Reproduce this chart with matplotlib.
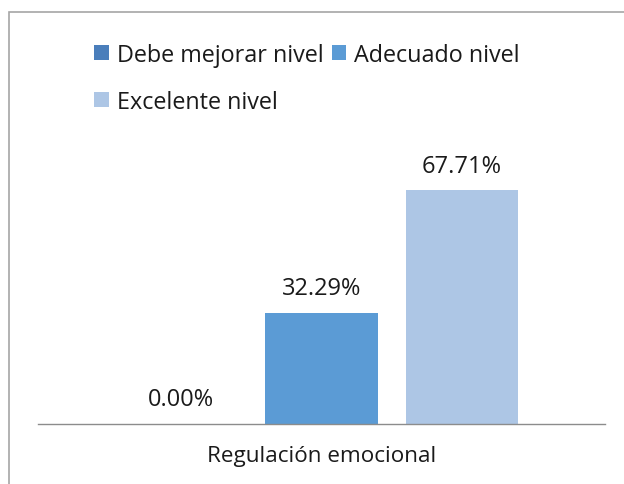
import matplotlib
matplotlib.use("Agg")
import matplotlib.pyplot as plt
from matplotlib.patches import Rectangle

categories = ["Regulación emocional"]
series_names = ["Debe mejorar nivel", "Adecuado nivel", "Excelente nivel"]
series_values = [0.00, 32.29, 67.71]
colors = ["#4A7EBB", "#5B9BD5", "#ADC6E5"]

W, H = 624, 485
fig = plt.figure(figsize=(W / 100, H / 100), dpi=100)
plt.rcParams['font.family'] = ['Open Sans', 'DejaVu Sans']

# outer chart frame
fig.patches.append(Rectangle((9 / W, -0.1), 1.2, 1.1 - 13 / H,
                             transform=fig.transFigure, fill=False,
                             edgecolor="#A6A6A6", linewidth=1.2))

left, right, bottom = 38, 605, 425
top = 149
ax = fig.add_axes([left / W, 1 - bottom / H, (right - left) / W, (bottom - top) / H])

offsets = [-1, 0, 1]
width = 0.80
handles = []
for off, name, val, c in zip(offsets, series_names, series_values, colors):
    b = ax.bar(off, val, width=width, color=c, label=name)
    handles.append(b)
    ax.annotate(f"{val:.2f}%", (off, val), xytext=(0, 9), textcoords="offset points",
                ha="center", va="bottom", fontsize=17, color="#1a1a1a")

ax.set_xlim(-2.02, 2.02)
ax.set_ylim(0, 80)
ax.set_yticks([])
ax.set_xticks([0])
ax.set_xticklabels(categories, fontsize=16.2, color="#1a1a1a")
ax.tick_params(axis="x", length=0, pad=15)
for s in ["top", "right", "left"]:
    ax.spines[s].set_visible(False)
ax.spines["bottom"].set_color("#8C8C8C")
ax.spines["bottom"].set_linewidth(1.0)

order = [0, 2, 1]
leg = fig.legend([handles[i] for i in order], [series_names[i] for i in order],
                 ncol=2, loc="upper left", bbox_to_anchor=(94 / W, 1 - 44 / H),
                 frameon=False, fontsize=16.8, handlelength=0.64, handleheight=0.6,
                 handletextpad=0.34, columnspacing=0.34, labelspacing=0.97,
                 borderpad=0, borderaxespad=0)
for t in leg.get_texts():
    t.set_color("#1a1a1a")

fig.savefig("out.png", dpi=100)
